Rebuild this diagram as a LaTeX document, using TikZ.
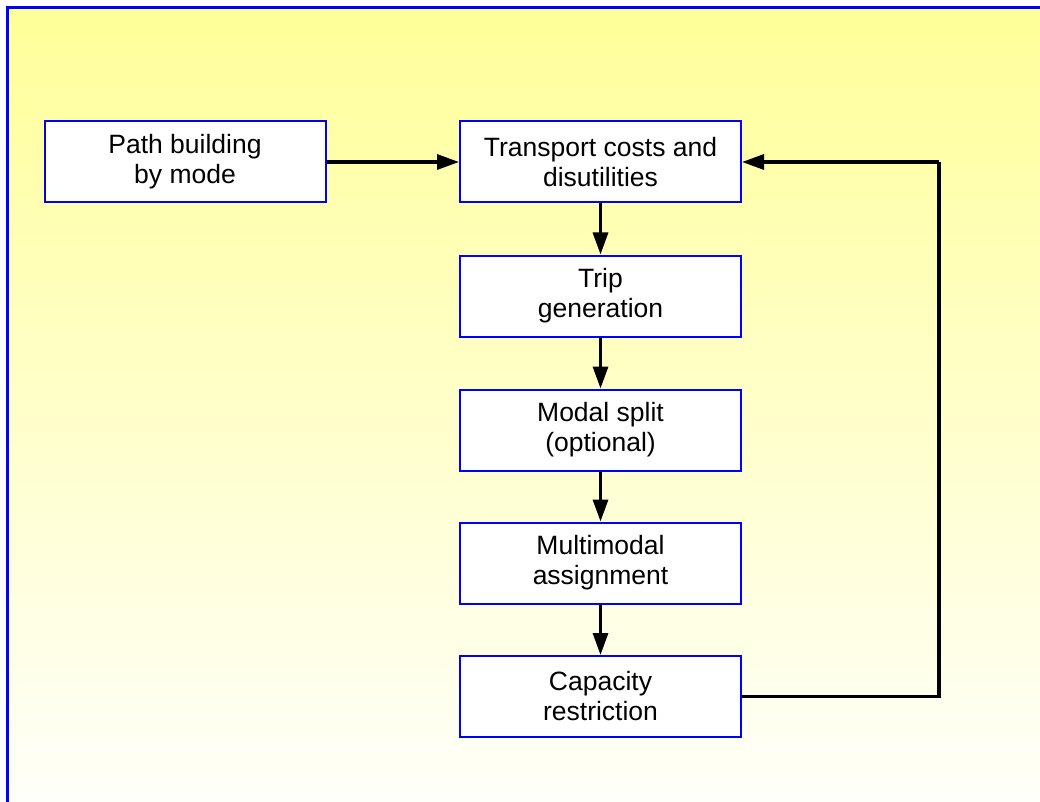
\documentclass[tikz,border=0pt]{standalone}
\usepackage{fontspec}
\setmainfont{Liberation Sans}
\usetikzlibrary{arrows.meta}
\definecolor{bgtop}{HTML}{FFFF99}
\definecolor{bgbot}{HTML}{FFFFFA}
\definecolor{frameblue}{HTML}{0000FF}
\tikzset{
  stepbox/.style={draw=frameblue, line width=2pt, fill=white, minimum width=281pt, minimum height=81pt, inner sep=0pt, align=center, font=\fontsize{26.5pt}{30pt}\selectfont},
  arr/.style={draw=black, line width=3.2pt, -{Triangle[length=22pt,width=15pt]}},
  fbline/.style={draw=black, line width=3.2pt}
}
\begin{document}
\begin{tikzpicture}[x=1pt,y=-1pt]
\useasboundingbox (0,0) rectangle (1040,802);
\fill[white] (0,0) rectangle (1040,802);
\shade[top color=bgtop, bottom color=bgbot, middle color=bgtop!50!bgbot] (7,8) rectangle (1040,802);
\draw[frameblue, line width=3pt] (7,802) -- (7,8) -- (1040,8);

\node[stepbox] (path) at (185,162) {Path building\\by mode};
\node[stepbox] (trans) at (600.5,162) {Transport costs and\\disutilities};
\node[stepbox] (trip) at (600.5,296) {Trip\\generation};
\node[stepbox] (modal) at (600.5,430) {Modal split\\(optional)};
\node[stepbox] (multi) at (600.5,563) {Multimodal\\assignment};
\node[stepbox] (cap) at (600.5,696.5) {Capacity\\restriction};
\coordinate (fb) at (939,162);

\draw[arr] (path.east) -- (trans.west);
\draw[arr] (trans.south) -- (trip.north);
\draw[arr] (trip.south) -- (modal.north);
\draw[arr] (modal.south) -- (multi.north);
\draw[arr] (multi.south) -- (cap.north);
\draw[fbline] (cap.east) -| (fb);
\draw[arr] (fb) -- (trans.east);
\end{tikzpicture}
\end{document}
